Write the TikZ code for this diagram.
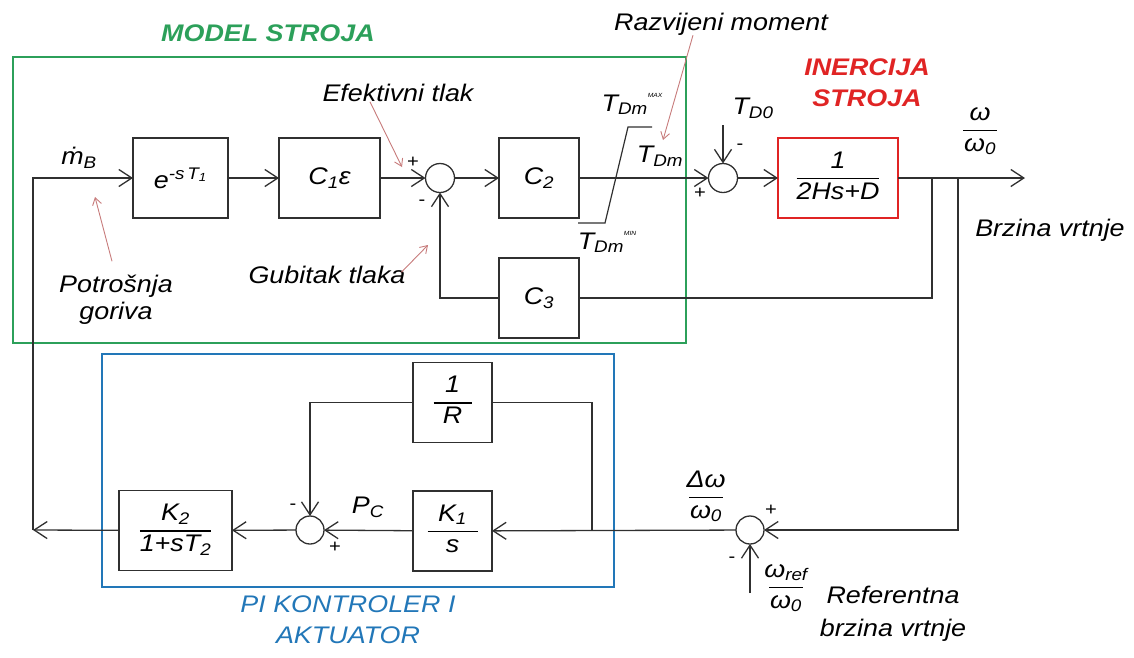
\documentclass[tikz,border=0pt]{standalone}
\usepackage{fontspec}
\setmainfont{Liberation Sans}[FakeStretch=1.12]
\usetikzlibrary{arrows.meta}
\definecolor{modelGreen}{HTML}{2CA05A}
\definecolor{ctrlBlue}{HTML}{2277B8}
\definecolor{inertRed}{HTML}{E02424}
\definecolor{noteRed}{HTML}{C77B7B}
\definecolor{wireInk}{HTML}{303030}
\setlength{\arrayrulewidth}{1.5pt}
\newcommand{\fracbox}[3][0pt]{%
  \begin{tabular}{@{}c@{}}\makebox[#1]{#2}\\[1pt]\hline\rule{0pt}{20pt}#3\end{tabular}}
\newcommand{\satTag}[1]{\raisebox{14pt}{\fontsize{6}{6}\selectfont #1}}
\tikzset{
  gov diagram/.style={
    x=1pt, y=-1pt, line width=1.3pt, draw=wireInk,
    >={Straight Barb[length=13pt,width=17pt]},
    every node/.style={font=\fontsize{24}{28}\selectfont\itshape,
      text=black, inner sep=0pt, outer sep=0pt}
  },
  gov block/.style={draw=wireInk, line width=1.3pt, minimum height=80pt},
  gov sum/.style={draw=wireInk, circle, minimum size=29pt, line width=1.3pt},
  gov wire/.style={->, draw=wireInk, line width=1.3pt},
  gov note/.style={draw=noteRed, line width=0.9pt, -{Straight Barb[length=7pt,width=9pt]}},
  gov sign/.style={font=\fontsize{18}{18}\selectfont},
  gov title/.style={font=\fontsize{24}{31}\selectfont\bfseries\itshape, align=center}
}

\begin{document}
\begin{tikzpicture}[gov diagram]
    \useasboundingbox (0,0) rectangle (1134,657);
    % group frames
    \draw[modelGreen, line width=2.5pt] (13,57) rectangle (686,343);
    \draw[ctrlBlue, line width=2.5pt] (102,354) rectangle (614,587);
    \node[gov title, text=modelGreen] (ttlModel) at (268,33) {MODEL STROJA};
    \node[gov title, text=inertRed] (ttlInert) at (867,83) {INERCIJA\\STROJA};
    \node[gov title, font=\fontsize{24}{31}\selectfont\itshape, text=ctrlBlue] (ttlCtrl) at (348,620) {PI KONTROLER I\\AKTUATOR};

    % blocks of the machine model
    \node[gov block, minimum width=95pt] (delay) at (180.5,178) {e\textsuperscript{-s\,T\textsubscript{1}}};
    \node[gov block, minimum width=101pt] (gainCeps) at (329.5,178) {C\textsubscript{1}ε};
    \node[gov sum] (sumP) at (440,178) {};
    \node[gov block, minimum width=80pt] (gainCtwo) at (539,178) {C\textsubscript{2}};
    \node[gov block, minimum width=80pt] (gainCthree) at (539,298) {C\textsubscript{3}};
    \node[gov sum] (sumT) at (723,178) {};
    \node[gov block, draw=inertRed, line width=2.5pt, minimum width=120pt] (inertia) at (838,178) {\fracbox{1}{2Hs+D}};

    % controller blocks
    \node[gov block, minimum width=79pt] (invR) at (452.5,402.5) {\fracbox[38pt]{1}{R}};
    \node[gov block, minimum width=79pt] (integK) at (452.5,531) {\fracbox[50pt]{K\textsubscript{1}}{s}};
    \node[gov sum, minimum size=28pt] (sumPc) at (310,530) {};
    \node[gov block, minimum width=113pt] (actK) at (175.5,530.5) {\fracbox{K\textsubscript{2}}{1+sT\textsubscript{2}}};
    \node[gov sum, minimum size=28pt] (sumW) at (750,530) {};

    % free ends and branch points
    \coordinate (fuelCorner) at (33,530);
    \coordinate (omegaOut) at (1025,178);
    \coordinate (tapC) at (932,178);
    \coordinate (tapW) at (958,178);
    \coordinate (tapR) at (592,530);
    \coordinate (refIn) at (750,593);
    \coordinate (loadIn) at (723,125);

    % signal path
    \draw[gov wire] (fuelCorner) |- (delay.west);
    \draw[gov wire] (delay) -- (gainCeps);
    \draw[gov wire] (gainCeps) -- (sumP);
    \draw[gov wire] (sumP) -- (gainCtwo);
    \draw[gov wire] (gainCtwo) -- (sumT);
    \draw[gov wire] (loadIn) -- (sumT);
    \draw[gov wire] (sumT) -- (inertia);
    \draw[gov wire] (inertia) -- (omegaOut);
    \draw (tapC) |- (gainCthree.east);
    \draw[gov wire] (gainCthree.west) -| (sumP.south);
    \draw[gov wire] (tapW) |- (sumW.east);
    \draw[gov wire] (refIn) -- (sumW);
    \draw[gov wire] (sumW) -- (integK);
    \draw (tapR) |- (invR.east);
    \draw[gov wire] (invR.west) -| (sumPc.north);
    \draw[gov wire] (integK) -- (sumPc);
    \draw[gov wire] (sumPc) -- (actK);
    \draw[gov wire] (actK) -- (fuelCorner);

    % torque limiter
    \draw[line width=1.2pt] (578,223) -- (605,223) -- (628,127) -- (652,127);
    \node (satMax) at (632,104) {T\textsubscript{Dm}\satTag{MAX}};
    \node (satMin) at (607,242) {T\textsubscript{Dm}\satTag{MIN}};
    \node (lblTdm) at (660,156) {T\textsubscript{Dm}};
    \node (lblTdo) at (753,108) {T\textsubscript{D0}};

    % signs
    \node[gov sign] (sgnPa) at (413,162) {+};
    \node[gov sign] (sgnPb) at (422,203) {-};
    \node[gov sign] (sgnTa) at (740,147) {-};
    \node[gov sign] (sgnTb) at (700,193) {+};
    \node[gov sign] (sgnCa) at (293,507) {-};
    \node[gov sign] (sgnCb) at (335,547) {+};
    \node[gov sign] (sgnWa) at (771,510) {+};
    \node[gov sign] (sgnWb) at (732,560) {-};

    % signal names
    \node (lblMdot) at (79,158) {ṁ\textsubscript{B}};
    \node (lblPc) at (368,507) {P\textsubscript{C}};
    \node (lblOmega) at (980,130) {\fracbox[34pt]{ω}{ω\textsubscript{0}}};
    \node (lblDelta) at (706,497) {\fracbox[34pt]{Δω}{ω\textsubscript{0}}};
    \node (lblRef) at (786,587) {\fracbox[34pt]{ω\textsubscript{ref}}{ω\textsubscript{0}}};

    % descriptions
    \node (lblMom) at (721,24) {Razvijeni moment};
    \node (lblEff) at (398,93) {Efektivni tlak};
    \node (lblLoss) at (327,275) {Gubitak tlaka};
    \node[align=center, font=\fontsize{24}{27}\selectfont\itshape] (lblFuel) at (116,300) {Potrošnja\\goriva};
    \node (lblSpeed) at (1050,230) {Brzina vrtnje};
    \node[align=center, font=\fontsize{24}{33}\selectfont\itshape] (lblRefTxt) at (893,614) {Referentna\\brzina vrtnje};

    \coordinate (tipMom) at (663,140);
    \coordinate (tipEff) at (402,167);
    \coordinate (tipLoss) at (428,245);
    \coordinate (tipFuel) at (95,197);
    \draw[gov note] ([xshift=-28pt]lblMom.south) -- (tipMom);
    \draw[gov note] ([xshift=-28pt]lblEff.south) -- (tipEff);
    \draw[gov note] ([xshift=-4pt,yshift=-6pt]lblLoss.north east) -- (tipLoss);
    \draw[gov note] ([xshift=-4pt,yshift=14pt]lblFuel.north) -- (tipFuel);
\end{tikzpicture}
\end{document}
